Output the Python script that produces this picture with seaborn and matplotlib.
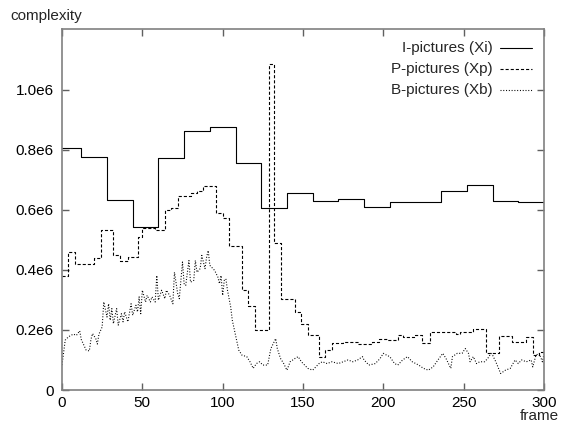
import matplotlib
matplotlib.use("Agg")
import matplotlib.pyplot as plt
from matplotlib.ticker import FuncFormatter
import seaborn as sns

# Complexity per frame, in units of 1e6.
# I-pictures: value held from each start frame until the next one.
i_frames = [0, 12, 28, 44, 60, 76, 92, 108, 124, 140, 156, 172, 188, 204,
            220, 236, 252, 268, 284, 300]
i_values = [0.807, 0.777, 0.631, 0.544, 0.772, 0.863, 0.874, 0.754, 0.605,
            0.657, 0.630, 0.637, 0.609, 0.627, 0.626, 0.661, 0.681, 0.628,
            0.625, 0.625]

# P-pictures: value held from each start frame until the next one.
p_frames = [0, 4, 8, 20, 24, 32, 36, 41, 47, 50, 58, 64, 68, 72, 80, 84, 88,
            96, 100, 104, 112, 116, 120, 129, 132, 136, 145, 149, 153, 160,
            164, 168, 175, 184, 193, 197, 202, 209, 212, 220, 224, 229, 245,
            248, 256, 264, 272, 280, 289, 293, 297, 300]
p_values = [0.380, 0.459, 0.418, 0.440, 0.533, 0.451, 0.431, 0.444, 0.510,
            0.540, 0.533, 0.599, 0.606, 0.647, 0.655, 0.664, 0.679, 0.588,
            0.572, 0.480, 0.332, 0.279, 0.199, 1.086, 0.490, 0.302, 0.260,
            0.221, 0.182, 0.111, 0.133, 0.157, 0.161, 0.153, 0.161, 0.171,
            0.166, 0.182, 0.175, 0.182, 0.155, 0.193, 0.186, 0.193, 0.202,
            0.122, 0.179, 0.160, 0.177, 0.116, 0.127, 0.127]

# B-pictures: sampled frames.
b_frames = [0, 2, 4, 7, 9, 11, 12, 15, 17, 18, 19, 21, 22, 23, 25, 26, 28,
            29, 30, 31, 32, 34, 35, 37, 38, 39, 41, 43, 44, 46, 47, 48, 49,
            50, 52, 53, 55, 56, 58, 59, 60, 62, 64, 65, 67, 69, 70, 72, 73,
            75, 76, 77, 79, 80, 82, 83, 84, 86, 87, 89, 90, 91, 92, 94, 95,
            97, 98, 99, 100, 101, 102, 103, 105, 106, 108, 110, 112, 115,
            117, 119, 121, 123, 125, 127, 128, 130, 133, 134, 136, 138, 140,
            142, 145, 147, 149, 151, 153, 156, 158, 160, 162, 165, 168, 172,
            175, 178, 181, 184, 187, 188, 191, 195, 198, 200, 202, 204, 207,
            209, 212, 215, 218, 222, 225, 228, 231, 234, 237, 239, 242, 243,
            246, 249, 251, 253, 254, 256, 258, 260, 263, 265, 267, 268, 270,
            273, 276, 279, 282, 284, 286, 289, 292, 293, 295, 297, 299, 300]
b_values = [0.083, 0.166, 0.177, 0.186, 0.182, 0.197, 0.168, 0.133, 0.130,
            0.168, 0.188, 0.171, 0.153, 0.186, 0.210, 0.293, 0.243, 0.287,
            0.232, 0.271, 0.221, 0.271, 0.216, 0.254, 0.227, 0.260, 0.227,
            0.287, 0.249, 0.282, 0.260, 0.310, 0.254, 0.332, 0.293, 0.315,
            0.293, 0.310, 0.293, 0.381, 0.299, 0.332, 0.304, 0.332, 0.315,
            0.287, 0.392, 0.321, 0.304, 0.426, 0.354, 0.348, 0.431, 0.359,
            0.365, 0.431, 0.392, 0.404, 0.448, 0.404, 0.442, 0.464, 0.415,
            0.404, 0.398, 0.376, 0.354, 0.381, 0.315, 0.365, 0.370, 0.332,
            0.276, 0.232, 0.182, 0.133, 0.116, 0.111, 0.094, 0.072, 0.088,
            0.094, 0.083, 0.083, 0.083, 0.138, 0.171, 0.138, 0.105, 0.088,
            0.066, 0.094, 0.105, 0.111, 0.094, 0.083, 0.072, 0.066, 0.077,
            0.088, 0.094, 0.088, 0.094, 0.088, 0.094, 0.100, 0.094, 0.100,
            0.111, 0.100, 0.083, 0.088, 0.105, 0.122, 0.116, 0.111, 0.088,
            0.083, 0.100, 0.111, 0.094, 0.083, 0.072, 0.066, 0.077, 0.100,
            0.122, 0.105, 0.072, 0.111, 0.122, 0.122, 0.138, 0.122, 0.094,
            0.111, 0.088, 0.094, 0.094, 0.105, 0.122, 0.116, 0.094, 0.055,
            0.066, 0.072, 0.100, 0.088, 0.100, 0.094, 0.100, 0.077, 0.116,
            0.122, 0.094, 0.120]

x_ticks = [0, 50, 100, 150, 200, 250, 300]
y_ticks = [0, 0.2, 0.4, 0.6, 0.8, 1.0]
legend_labels = ["I-pictures (Xi)", "P-pictures (Xp)", "B-pictures (Xb)"]

sns.set_style("ticks")
plt.rcParams["font.family"] = ["Liberation Sans", "DejaVu Sans"]

fig = plt.figure(figsize=(5.61, 4.25), dpi=100)
ax = fig.add_axes([62 / 561, 35 / 425, 482 / 561, 360.5 / 425])

LW = 0.8
DASHED = (0, (2.8, 1.8))
DOTTED = (0, (0.9, 1.6))
styles = ["-", DASHED, DOTTED]

sns.lineplot(x=i_frames, y=i_values, ax=ax, color="black", lw=LW,
             drawstyle="steps-post", sort=False, estimator=None, legend=False)
sns.lineplot(x=p_frames, y=p_values, ax=ax, color="black", lw=LW,
             drawstyle="steps-post", sort=False, estimator=None, legend=False)
sns.lineplot(x=b_frames, y=b_values, ax=ax, color="black", lw=LW,
             sort=False, estimator=None, legend=False)
for line, ls in zip(ax.get_lines()[:3], styles):
    line.set_linestyle(ls)

ax.set_xlim(0, 300)
ax.set_ylim(0, 1.2)
ax.set_xticks(x_ticks)
ax.set_yticks(y_ticks)
ax.yaxis.set_major_formatter(
    FuncFormatter(lambda v, _: "0" if v == 0 else f"{v:.1f}e6"))
ax.set_xlabel("")
ax.set_ylabel("")

for s in ax.spines.values():
    s.set_visible(True)
    s.set_color("#808080")
    s.set_linewidth(1.2)
ax.tick_params(direction="in", length=5, width=1, color="#606060",
               labelcolor="black", labelsize=11, top=True, right=True)
ax.tick_params(axis="x", pad=4)
ax.tick_params(axis="y", pad=6)

# key in the upper right: label text right-aligned, sample line after it
for k, (label, ls) in enumerate(zip(legend_labels, styles)):
    y = 0.949 - k * 0.0583
    ax.text(0.894, y, label, transform=ax.transAxes, ha="right",
            va="center", fontsize=11)
    ax.plot([0.909, 0.975], [y, y], transform=ax.transAxes, color="black",
            lw=LW, linestyle=ls)

fig.text(10 / 561, 1 - 16 / 425, "complexity", ha="left", va="center",
         fontsize=11)
fig.text(559 / 561, 1 - 416 / 425, "frame", ha="right", va="center",
         fontsize=11)

fig.savefig("out.png", dpi=100)
